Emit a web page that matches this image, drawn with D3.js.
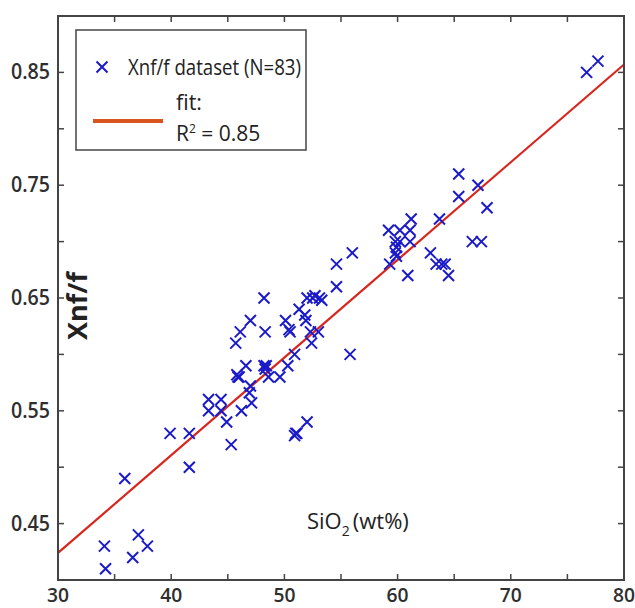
<!DOCTYPE html>
<html><head><meta charset="utf-8">
<script src="https://cdn.jsdelivr.net/npm/d3@7"></script>
<style>
body{margin:0;background:#fff;}
text{font-family:"Open Sans","Noto Sans",sans-serif;}
</style></head>
<body><svg id="c" width="635" height="608"></svg>
<script>
// SiO2 (wt%) values
const sio2 = [34.1,34.2,35.9,37.1,37.9,36.6,39.9,41.6,41.6,43.3,43.3,44.4,44.4,44.9,45.3,46.2,46.9,47.1,45.9,46.0,
  45.7,46.1,46.6,47.0,48.2,48.3,48.2,48.4,48.3,48.6,49.6,50.3,50.9,50.1,50.5,51.3,51.8,52.0,52.5,53.1,
  52.3,53.0,52.4,51.0,51.1,50.9,52.0,55.8,54.6,54.6,56.0,59.2,59.3,59.8,59.9,60.2,60.2,61.2,61.1,61.1,
  60.9,62.9,63.4,63.9,64.2,64.5,63.7,65.4,65.4,67.1,67.9,66.6,67.4,76.7,77.7,59.9,51.9,52.7,53.3,59.8,
  50.4,47.0,45.8];
// Xnf/f values
const xnf = [0.43,0.41,0.49,0.44,0.43,0.42,0.53,0.53,0.50,0.56,0.55,0.56,0.55,0.54,0.52,0.55,0.566,0.557,0.58,0.58,
  0.61,0.62,0.59,0.63,0.65,0.62,0.59,0.59,0.587,0.58,0.58,0.59,0.60,0.63,0.62,0.64,0.635,0.65,0.65,0.65,
  0.62,0.62,0.61,0.53,0.53,0.528,0.54,0.60,0.66,0.68,0.69,0.71,0.68,0.69,0.695,0.71,0.70,0.72,0.71,0.70,
  0.67,0.69,0.68,0.68,0.68,0.67,0.72,0.76,0.74,0.75,0.73,0.70,0.70,0.85,0.86,0.687,0.63,0.652,0.648,0.70,
  0.622,0.572,0.582];
// linear fit end points
const fitX = [30, 80];
const fitY = [0.424, 0.857];
const xTicks = [30,35,40,45,50,55,60,65,70,75,80];
const xTickLabels = [30,40,50,60,70,80];
const yTicks = [0.40,0.45,0.50,0.55,0.60,0.65,0.70,0.75,0.80,0.85,0.90];
const yTickLabels = [0.45,0.55,0.65,0.75,0.85];

const svg = d3.select("#c");
const L=58,R=624,T=16,B=580;
const x = d3.scaleLinear().domain([30,80]).range([L,R]);
const y = d3.scaleLinear().domain([0.4,0.9]).range([B,T]);
const axisCol="#444", txtCol="#2e2e2e";

function condense(sel, w){ sel.each(function(){ this.setAttribute("textLength", w); this.setAttribute("lengthAdjust","spacingAndGlyphs"); }); }

// fit line
svg.append("line").attr("x1",x(fitX[0])).attr("y1",y(fitY[0])).attr("x2",x(fitX[1])).attr("y2",y(fitY[1]))
  .attr("stroke","#d8261e").attr("stroke-width",2.2);

// markers
const s=5.5;
const g = svg.append("g").attr("stroke","#1a1ac8").attr("stroke-width",2).attr("fill","none");
sio2.forEach((v,i)=>{
  const cx=x(v), cy=y(xnf[i]);
  g.append("path").attr("d",`M${cx-s},${cy-s}L${cx+s},${cy+s}M${cx-s},${cy+s}L${cx+s},${cy-s}`);
});

// frame & ticks
svg.append("rect").attr("x",L).attr("y",T).attr("width",R-L).attr("height",B-T).attr("fill","none").attr("stroke",axisCol).attr("stroke-width",2);
const tk=6;
const tg=svg.append("g").attr("stroke",axisCol).attr("stroke-width",1.5);
xTicks.forEach(v=>{ tg.append("line").attr("x1",x(v)).attr("x2",x(v)).attr("y1",B).attr("y2",B-tk);
  tg.append("line").attr("x1",x(v)).attr("x2",x(v)).attr("y1",T).attr("y2",T+tk);});
yTicks.forEach(v=>{ tg.append("line").attr("y1",y(v)).attr("y2",y(v)).attr("x1",L).attr("x2",L+tk);
  tg.append("line").attr("y1",y(v)).attr("y2",y(v)).attr("x1",R).attr("x2",R-tk);});

// tick labels
svg.append("g").selectAll("text").data(xTickLabels).join("text")
  .attr("x",d=>x(d)).attr("y",602).attr("text-anchor","middle").attr("font-size",20).attr("font-weight",600).attr("fill",txtCol)
  .text(d=>d).call(condense,22);
svg.append("g").selectAll("text").data(yTickLabels).join("text")
  .attr("x",50).attr("y",d=>y(d)+7).attr("text-anchor","end").attr("font-size",21).attr("font-weight",600).attr("fill",txtCol)
  .text(d=>d.toFixed(2)).call(condense,39);

// axis labels
const xl = svg.append("text").attr("x",307).attr("y",529).attr("font-size",22).attr("fill","#222");
xl.append("tspan").text("SiO");
xl.append("tspan").attr("font-size",14).attr("dy",7).text("2");
xl.append("tspan").attr("dy",-7).attr("dx",3).text("(wt%)");
svg.append("text").attr("transform","translate(87,306) rotate(-90)").attr("text-anchor","middle")
  .attr("font-size",26).attr("font-weight","bold").attr("fill","#222").text("Xnf/f").call(condense,68);

// legend
svg.append("rect").attr("x",76).attr("y",30).attr("width",230).attr("height",120).attr("fill","#fff")
  .attr("stroke",axisCol).attr("stroke-width",1.5);
const lx=102, ly=67;
svg.append("path").attr("d",`M${lx-s},${ly-s}L${lx+s},${ly+s}M${lx-s},${ly+s}L${lx+s},${ly-s}`)
  .attr("stroke","#1a1ac8").attr("stroke-width",2);
svg.append("text").attr("x",128).attr("y",75).attr("font-size",21).attr("fill","#222").text("Xnf/f dataset (N=83)").call(condense,173);
svg.append("line").attr("x1",93).attr("x2",163).attr("y1",121).attr("y2",121).attr("stroke","#d9541e").attr("stroke-width",4);
svg.append("text").attr("x",176).attr("y",110).attr("font-size",21).attr("fill","#222").text("fit:").call(condense,26);
const r2 = svg.append("text").attr("x",176).attr("y",141).attr("font-size",21).attr("fill","#222");
r2.append("tspan").text("R");
r2.append("tspan").attr("font-size",12).attr("dy",-8).text("2");
r2.append("tspan").attr("dy",8).text(" = 0.85");
</script></body></html>
